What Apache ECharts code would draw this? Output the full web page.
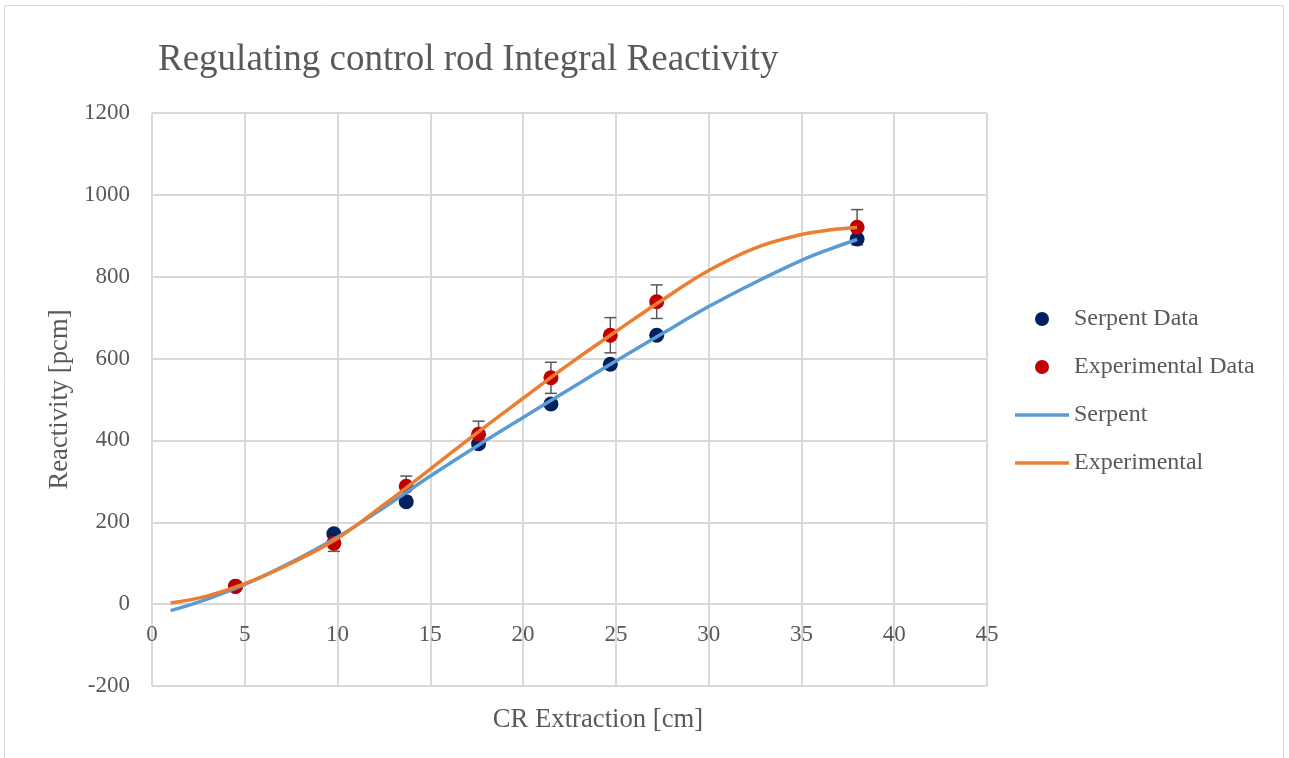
<!DOCTYPE html>
<html>
<head>
<meta charset="utf-8">
<script src="https://cdn.jsdelivr.net/npm/echarts@6/dist/echarts.min.js"></script>
<style>
html,body{margin:0;padding:0;background:#fff;}
#chart{width:1289px;height:758px;}
</style>
</head>
<body>
<div id="chart"></div>
<script>
// Measured points
const dataX = [4.5, 9.8, 13.7, 17.6, 21.5, 24.7, 27.2, 38.0];
const serpentData = [44, 172, 250, 392, 489, 586, 657, 892];
const experimentalData = [43, 149, 288, 415, 553, 657, 739, 921];
const experimentalErr = [6, 20, 25, 32, 38, 43, 41, 43];

// Fitted curves
const curveX = [1, 2.9, 5, 7.5, 10, 12.5, 15, 17.5, 20, 22.5, 25, 27.5, 30, 32.5, 35, 36.5, 38];
const serpentCurve = [-16, 11, 48, 102, 164, 236, 313, 386, 456, 525, 594, 661, 727, 786, 840, 867, 891];
const experimentalCurve = [3, 19, 50, 100, 161, 243, 330, 418, 503, 587, 666, 743, 815, 870, 903, 914, 920];

// Axis ticks
const xTicks = {min: 0, max: 45, interval: 5};
const yTicks = {min: -200, max: 1200, interval: 200};

const font = 'Liberation Serif, Times New Roman, serif';
const txt = '#595959';
const gridCol = '#d9d9d9';

const zip = (xs, ys) => xs.map((x, i) => [x, ys[i]]);
const lineIcon = 'path://M0,0H54V3.5H0Z';

const chart = echarts.init(document.getElementById('chart'));
chart.setOption({
  backgroundColor: '#fff',
  animation: false,
  title: {
    text: 'Regulating control rod Integral Reactivity',
    left: 158, top: 42, padding: 0,
    textStyle: {fontFamily: font, fontSize: 37, fontWeight: 'normal', color: txt}
  },
  graphic: [{
    type: 'rect', silent: true, z: -10,
    shape: {x: 4.5, y: 5.5, width: 1279, height: 800},
    style: {fill: 'none', stroke: gridCol, lineWidth: 1}
  }],
  legend: {
    orient: 'vertical',
    left: 1015, top: 307, padding: 0,
    itemWidth: 54, itemHeight: 14, itemGap: 24,
    textStyle: {fontFamily: font, fontSize: 24, color: txt},
    data: [
      {name: 'Serpent Data', icon: 'circle'},
      {name: 'Experimental Data', icon: 'circle'},
      {name: 'Serpent', icon: lineIcon},
      {name: 'Experimental', icon: lineIcon}
    ]
  },
  grid: {left: 152, right: 302, top: 113, bottom: 72, outerBoundsMode: 'none', containLabel: false},
  xAxis: {
    type: 'value', min: xTicks.min, max: xTicks.max, interval: xTicks.interval,
    position: 'bottom', offset: -82,
    name: 'CR Extraction [cm]', nameLocation: 'middle', nameGap: 102,
    nameTextStyle: {fontFamily: font, fontSize: 26.7, color: txt, padding: [0,0,0,57]},
    axisLine: {onZero: false, lineStyle: {color: gridCol, width: 2}},
    axisTick: {show: false},
    axisLabel: {fontFamily: font, fontSize: 23, color: txt, margin: 19, formatter: v => String(v)},
    splitLine: {show: true, lineStyle: {color: gridCol, width: 2}}
  },
  yAxis: {
    type: 'value', min: yTicks.min, max: yTicks.max, interval: yTicks.interval,
    name: 'Reactivity [pcm]', nameLocation: 'middle', nameGap: 73,
    nameTextStyle: {fontFamily: font, fontSize: 26.7, color: txt},
    axisLine: {show: false, onZero: false},
    axisTick: {show: false},
    axisLabel: {fontFamily: font, fontSize: 23, color: txt, margin: 22, formatter: v => String(v)},
    splitLine: {show: true, lineStyle: {color: gridCol, width: 2}}
  },
  series: [
    {
      name: 'ExpErr', type: 'custom', z: 2, silent: true,
      data: dataX.map((x, i) => [x, experimentalData[i] - experimentalErr[i], experimentalData[i] + experimentalErr[i]]),
      renderItem: function (params, api) {
        const lo = api.coord([api.value(0), api.value(1)]);
        const hi = api.coord([api.value(0), api.value(2)]);
        const cw = 6;
        const st = {stroke: '#595959', lineWidth: 1.5};
        return {type: 'group', children: [
          {type: 'line', shape: {x1: lo[0], y1: lo[1], x2: hi[0], y2: hi[1]}, style: st},
          {type: 'line', shape: {x1: lo[0]-cw, y1: lo[1], x2: lo[0]+cw, y2: lo[1]}, style: st},
          {type: 'line', shape: {x1: hi[0]-cw, y1: hi[1], x2: hi[0]+cw, y2: hi[1]}, style: st}
        ]};
      }
    },
    {
      name: 'Serpent Data', type: 'scatter', z: 3,
      symbol: 'circle', symbolSize: 15,
      itemStyle: {color: '#002060', opacity: 1},
      data: zip(dataX, serpentData)
    },
    {
      name: 'Experimental Data', type: 'scatter', z: 4,
      symbol: 'circle', symbolSize: 15,
      itemStyle: {color: '#C00000', opacity: 1},
      data: zip(dataX, experimentalData)
    },
    {
      name: 'Serpent', type: 'line', z: 5, smooth: 0.4,
      symbol: 'none', showSymbol: false, color: '#5B9BD5',
      lineStyle: {color: '#5B9BD5', width: 3.5},
      data: zip(curveX, serpentCurve)
    },
    {
      name: 'Experimental', type: 'line', z: 6, smooth: 0.4,
      symbol: 'none', showSymbol: false, color: '#ED7D31',
      lineStyle: {color: '#ED7D31', width: 3.5},
      data: zip(curveX, experimentalCurve)
    }
  ]
});
</script>
</body>
</html>
